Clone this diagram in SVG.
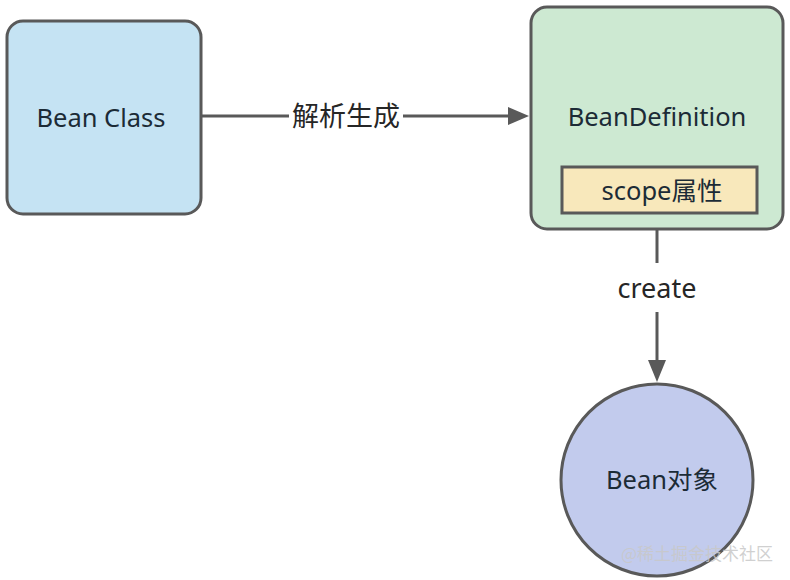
<svg xmlns="http://www.w3.org/2000/svg" width="790" height="580" viewBox="0 0 790 580">
<style>
.node{stroke:#595959;stroke-width:3}
.t{font-family:"Noto Sans","Noto Sans CJK SC",sans-serif;font-size:25.5px;fill:#1c2b36;text-anchor:middle;dominant-baseline:central}
.lbl{font-family:"Noto Sans","Noto Sans CJK SC",sans-serif;font-size:27px;fill:#262626;text-anchor:middle;dominant-baseline:central}
.edge{stroke:#595959;stroke-width:3;fill:none}
</style>
<rect width="790" height="580" fill="#ffffff"/>
<g id="edges">
<path class="edge" d="M201,116 H289"/>
<path class="edge" d="M403,116 H512"/>
<path d="M508,107 L529,116 L508,125 z" fill="#595959"/>
<text class="lbl" x="346" y="115">解析生成</text>
<path class="edge" d="M657,229 V263"/>
<path class="edge" d="M657,312 V364"/>
<path d="M648,360 L657,382 L666,360 z" fill="#595959"/>
<text class="lbl" x="657" y="287">create</text>
</g>
<g id="bean-class">
<rect class="node" x="7" y="21" width="194" height="193" rx="16" fill="#c5e3f3"/>
<text class="t" x="101" y="117">Bean Class</text>
</g>
<g id="bean-definition">
<rect class="node" x="531" y="7" width="252" height="222" rx="16" fill="#cde9d2"/>
<text class="t" x="657" y="116">BeanDefinition</text>
<g id="scope">
<rect class="node" x="562" y="167" width="195" height="46" fill="#f8e8bb"/>
<text class="t" x="662" y="190">scope属性</text>
</g>
</g>
<g id="bean-object">
<circle class="node" cx="657" cy="480" r="96" fill="#c2cbed"/>
<text class="t" x="662" y="479">Bean对象</text>
</g>
<text x="697" y="552" font-family="Noto Sans CJK SC,sans-serif" font-size="17" fill="#c8c8c8" fill-opacity="0.85" text-anchor="middle" dominant-baseline="central">@稀土掘金技术社区</text>
</svg>
